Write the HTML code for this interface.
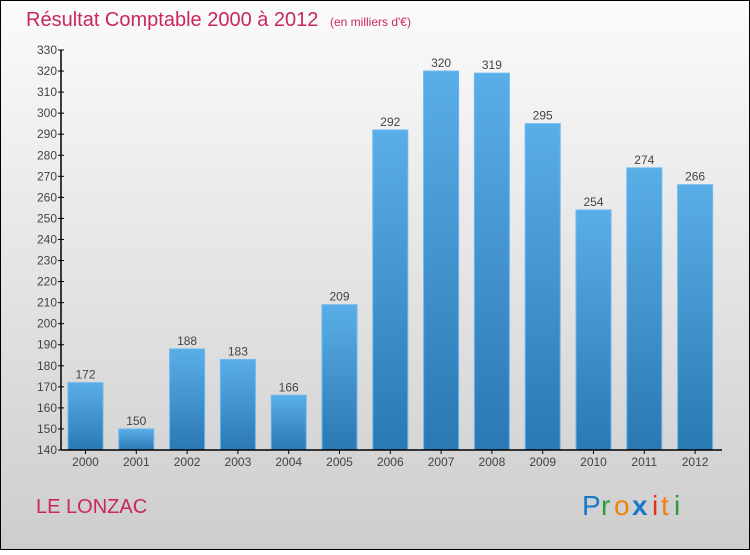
<!DOCTYPE html>
<html><head><meta charset="utf-8"><style>
html,body{margin:0;padding:0;}
body{width:750px;height:550px;overflow:hidden;font-family:"Liberation Sans",sans-serif;}
</style></head><body>
<svg id="chart" width="750" height="550" xmlns="http://www.w3.org/2000/svg">
<defs>
<linearGradient id="bg" x1="0" y1="0" x2="0" y2="1"><stop offset="0" stop-color="#fbfbfb"/><stop offset="1" stop-color="#cdcdcd"/></linearGradient>
<linearGradient id="bar" x1="0" y1="0" x2="0" y2="1"><stop offset="0" stop-color="#5aaee8"/><stop offset="1" stop-color="#2a78b4"/></linearGradient>
</defs>
<rect x="0.5" y="0.5" width="749" height="549" fill="url(#bg)" stroke="#000" stroke-width="1"/>
<text x="26" y="26" font-size="20" fill="#c8285a">Résultat Comptable 2000 à 2012 <tspan font-size="12" dx="6">(en milliers d'€)</tspan></text>
<g id="yaxis"></g>
<g id="bars"></g>
<g id="xaxis"></g>
<text x="36" y="513" font-size="20" fill="#c8285a">LE LONZAC</text>
<g font-size="28" font-family="'Liberation Sans',sans-serif">
<text x="582" y="515" fill="#1a78c8">P</text><text x="601" y="515" fill="#2a9a3a">r</text><text x="614" y="515" fill="#f08010">o</text><text x="632" y="515" fill="#1a78c8" font-weight="bold">x</text><text x="652" y="515" fill="#e03020">i</text><text x="661" y="515" fill="#f08010">t</text><text x="674" y="515" fill="#2a9a3a">i</text>
</g>
</svg>
<script>
const years=["2000","2001","2002","2003","2004","2005","2006","2007","2008","2009","2010","2011","2012"];
const values=[172,150,188,183,166,209,292,320,319,295,254,274,266];
const yTicks=[140,150,160,170,180,190,200,210,220,230,240,250,260,270,280,290,300,310,320,330];
const NS="http://www.w3.org/2000/svg";
const yMin=140,yMax=330,yTop=50,yBot=450,xAxis=61;
const y=v=>yBot-(v-yMin)/(yMax-yMin)*(yBot-yTop);
const x=i=>85.5+i*50.8;
function mk(t,a,p,txt){const e=document.createElementNS(NS,t);for(const k in a)e.setAttribute(k,a[k]);if(txt!==undefined)e.textContent=txt;p.appendChild(e);return e;}
const ya=document.getElementById('yaxis'),ba=document.getElementById('bars'),xa=document.getElementById('xaxis');
const al=mk('line',{x1:xAxis,y1:yTop,x2:xAxis,y2:yBot,stroke:'#000','stroke-width':1.5},ya);


yTicks.forEach(v=>{
 const tk=mk('line',{x1:xAxis-3,y1:y(v),x2:xAxis+3,y2:y(v),stroke:'#000'},ya);
 
 
 const tl=mk('text',{x:xAxis-4,y:y(v)+4,'font-size':12,fill:'#444','text-anchor':'end'},ya,v);
 
 
});
const xl=mk('line',{x1:xAxis,y1:yBot,x2:722,y2:yBot,stroke:'#000','stroke-width':1.5},xa);


values.forEach((v,i)=>{
 const r=mk('rect',{x:x(i)-17.5,y:y(v),width:35,height:yBot-y(v),fill:'url(#bar)',stroke:'#6bb8ee','stroke-width':1},ba);
 
 
 const vl=mk('text',{x:x(i),y:y(v)-4,'font-size':12,fill:'#444','text-anchor':'middle'},ba,v);
 
 
 const tk=mk('line',{x1:x(i),y1:yBot,x2:x(i),y2:yBot+4,stroke:'#000'},xa);
 
 
 const xt=mk('text',{x:x(i),y:466,'font-size':12,fill:'#444','text-anchor':'middle'},xa,years[i]);
 
 
});
</script>
</body></html>
